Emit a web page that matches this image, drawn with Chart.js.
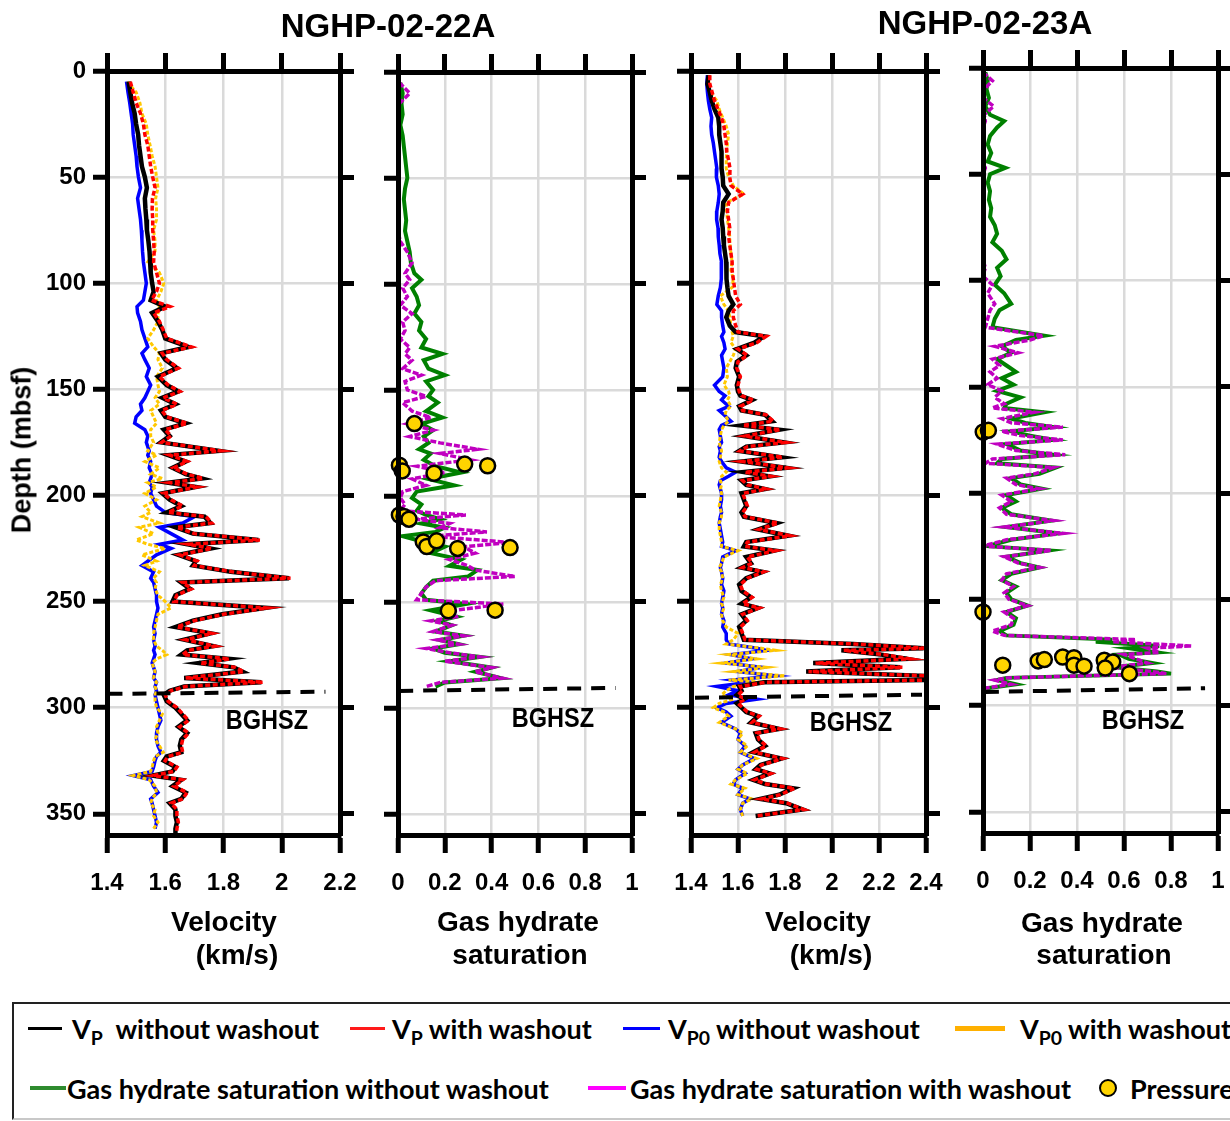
<!DOCTYPE html>
<html>
<head>
<meta charset="utf-8">
<script src="https://cdn.jsdelivr.net/npm/chart.js@4.4.0/dist/chart.umd.min.js"></script>
<style>
  html, body { margin: 0; padding: 0; background: #fff; width: 1230px; height: 1121px; overflow: hidden; position: relative;
    font-family: "Liberation Sans", Arial, sans-serif; }
  canvas { position: absolute; }
  .t { position: absolute; transform: translate(-50%, -50%); white-space: nowrap; font-weight: bold; color: #000; line-height: 1; }
  .title { font-size: 33px; }
  .ax { font-size: 28px; }
  .bg { font-size: 28px; transform: translate(-50%, -50%) scaleX(0.84); }
  #legend { position: absolute; left: 12px; top: 1002px; width: 1240px; height: 118px; border: 2px solid #222;
    border-bottom-color: #c8c8c8; box-sizing: border-box; }
  .lg { position: absolute; font-family: Lato, "Open Sans", sans-serif; font-weight: bold; font-size: 27px; white-space: nowrap;
    line-height: 1; transform: translateY(-50%); color: #000; }
  .lg sub { font-size: 0.72em; vertical-align: -0.35em; line-height: 0; }
  .sw { position: absolute; }
</style>
</head>
<body>
<canvas id="c1" width="376" height="870" style="left:0px;top:40px"></canvas>
<canvas id="c2" width="298" height="870" style="left:370px;top:40px"></canvas>
<canvas id="c3" width="307" height="870" style="left:655px;top:40px"></canvas>
<canvas id="c4" width="299" height="866" style="left:955px;top:37px"></canvas>

<div class="t title" style="left:388px;top:25px">NGHP-02-22A</div>
<div class="t title" style="left:985px;top:22px">NGHP-02-23A</div>

<div class="t ax" style="left:22px;top:450px;transform:translate(-50%,-50%) rotate(-90deg);font-size:27px">Depth (mbsf)</div>

<div class="t ax" style="left:224px;top:922px">Velocity</div>
<div class="t ax" style="left:237px;top:955px">(km/s)</div>
<div class="t ax" style="left:518px;top:922px">Gas hydrate</div>
<div class="t ax" style="left:520px;top:955px">saturation</div>
<div class="t ax" style="left:818px;top:922px">Velocity</div>
<div class="t ax" style="left:831px;top:955px">(km/s)</div>
<div class="t ax" style="left:1102px;top:923px">Gas hydrate</div>
<div class="t ax" style="left:1104px;top:955px">saturation</div>

<div class="t bg" style="left:267px;top:720px">BGHSZ</div>
<div class="t bg" style="left:553px;top:718px">BGHSZ</div>
<div class="t bg" style="left:851px;top:722px">BGHSZ</div>
<div class="t bg" style="left:1143px;top:720px">BGHSZ</div>

<div id="legend"></div>
<div class="sw" style="left:28px;top:1027px;width:34px;height:3px;background:#000"></div>
<div class="lg" style="left:72px;top:1028px">V<sub>P</sub>&nbsp; without washout</div>
<div class="sw" style="left:350px;top:1027px;width:35px;height:3px;background:#ff1a1a"></div>
<div class="lg" style="left:392px;top:1028px">V<sub>P</sub> with washout</div>
<div class="sw" style="left:623px;top:1027px;width:37px;height:3px;background:#0000ff"></div>
<div class="lg" style="left:668px;top:1028px">V<sub>P0</sub> without washout</div>
<div class="sw" style="left:955px;top:1026px;width:50px;height:5px;background:#ffb000"></div>
<div class="lg" style="left:1020px;top:1028px">V<sub>P0</sub> with washout</div>
<div class="sw" style="left:30px;top:1086px;width:36px;height:4px;background:#2e8b2e"></div>
<div class="lg" style="left:67px;top:1088px">Gas hydrate saturation without washout</div>
<div class="sw" style="left:588px;top:1086px;width:38px;height:4px;background:#ff00ff"></div>
<div class="lg" style="left:630px;top:1088px">Gas hydrate saturation with washout</div>
<div class="sw" style="left:1099px;top:1079px;width:14px;height:14px;border:2px solid #000;border-radius:50%;background:#ffd400"></div>
<div class="lg" style="left:1130px;top:1088px">Pressure core</div>

<script>
// ---------- NGHP-02-22A ----------
const depth22 = [5,10,15,20,25,30,35,40,45,50,55,60,65,70,75,80,85,90,95,100,
  104,108,111,114,118,122,126,130,133,136,140,144,148,151,154,157,160,163,166,169,172,175,179,181,184,187,190,192,194,196,199,
  202,205,208,210,213,215,218,221,223,225,228,231,233,236,239,241,244,247,250,253,256,259,262,265,268,271,273,275,277,279,281,283,286,288,290,292,294,
  297,300,303,306,309,312,315,318,321,323,325,328,330,332,334,337,340,343,345,348,351,354,357,360];
// Vp without washout
const vp22 = [1.474,1.48,1.486,1.495,1.50,1.507,1.51,1.515,1.52,1.53,1.537,1.53,1.532,1.535,1.537,1.542,1.546,1.548,1.55,1.555,
  1.56,1.55,1.60,1.555,1.575,1.59,1.60,1.68,1.585,1.60,1.64,1.575,1.605,1.645,1.59,1.635,1.585,1.60,1.67,1.595,1.615,1.585,1.785,1.61,1.67,1.625,1.67,1.725,1.61,1.705,1.59,
  1.615,1.655,1.605,1.735,1.755,1.635,1.695,1.92,1.675,1.755,1.645,1.705,1.695,1.825,2.025,1.655,1.685,1.635,1.625,1.945,1.795,1.695,1.635,1.755,1.665,1.765,1.675,1.655,1.815,1.715,1.835,1.865,1.665,1.93,1.665,1.615,1.595,
  1.605,1.635,1.655,1.675,1.645,1.675,1.655,1.65,1.655,1.605,1.595,1.635,1.625,1.555,1.655,1.625,1.67,1.655,1.615,1.635,1.635,1.64,1.635,1.635];
// Vp with washout
const vpWash22 = [1.48,1.49,1.50,1.515,1.525,1.53,1.54,1.545,1.55,1.557,1.565,1.556,1.555,1.557,1.557,1.56,1.562,1.56,1.57,1.58,
  1.57,1.553,1.616,1.56,1.58,1.593,1.605,1.69,1.59,1.605,1.645,1.58,1.61,1.65,1.593,1.64,1.588,1.605,1.675,1.60,1.62,1.588,1.79,1.616,1.675,1.628,1.675,1.73,1.616,1.71,1.593,
  1.62,1.66,1.61,1.74,1.76,1.64,1.70,1.925,1.68,1.76,1.65,1.71,1.70,1.83,2.03,1.66,1.69,1.64,1.63,1.95,1.80,1.70,1.64,1.76,1.67,1.77,1.68,1.66,1.82,1.72,1.84,1.87,1.67,1.935,1.67,1.62,1.60,
  1.61,1.64,1.66,1.68,1.65,1.68,1.66,1.655,1.66,1.61,1.60,1.64,1.63,1.56,1.66,1.63,1.675,1.66,1.62,1.64,1.64,1.645,1.64,1.64];
// Vp0 without washout
const vp0_22 = [1.467,1.472,1.478,1.483,1.488,1.49,1.495,1.50,1.503,1.508,1.515,1.505,1.51,1.515,1.518,1.52,1.522,1.525,1.53,1.535,
  1.53,1.525,1.503,1.505,1.515,1.52,1.53,1.54,1.52,1.53,1.545,1.535,1.55,1.54,1.53,1.515,1.52,1.50,1.495,1.53,1.54,1.535,1.545,1.54,1.55,1.545,1.555,1.55,1.545,1.555,1.55,
  1.56,1.57,1.60,1.70,1.66,1.58,1.62,1.66,1.58,1.62,1.57,1.54,1.52,1.56,1.55,1.56,1.565,1.57,1.57,1.575,1.57,1.565,1.56,1.565,1.56,1.565,1.56,1.565,1.56,1.555,1.56,1.565,1.56,1.57,1.565,1.57,1.565,
  1.57,1.575,1.58,1.585,1.575,1.57,1.57,1.575,1.585,1.57,1.565,1.56,1.555,1.49,1.55,1.56,1.575,1.55,1.555,1.56,1.565,1.57,1.565,null];
// Vp0 with washout
const vp0Wash22 = [1.47,1.50,1.513,1.52,1.535,1.54,1.548,1.555,1.565,1.57,1.575,1.567,1.57,1.57,1.56,1.565,1.565,1.54,1.58,1.595,
  1.585,1.57,1.58,1.575,1.575,1.56,1.54,1.56,1.58,1.575,1.59,1.57,1.575,1.58,1.565,1.58,1.55,1.56,1.57,1.55,1.55,1.56,1.54,1.57,1.53,1.58,1.55,1.59,1.54,1.57,1.53,
  1.57,1.53,1.55,1.52,1.58,1.51,1.56,1.50,1.54,1.60,1.52,1.57,1.53,1.58,1.56,1.57,1.565,1.575,1.60,1.62,1.575,1.57,1.565,1.56,1.56,1.57,1.59,1.605,1.57,1.555,1.56,1.565,1.56,1.57,1.565,1.57,1.565,
  1.565,1.57,1.59,1.58,1.57,1.575,1.565,1.58,1.593,1.565,1.56,1.555,1.55,1.49,1.545,1.565,1.57,1.555,1.55,1.565,1.56,1.575,1.56,null];

const ghsDepth22 = [5,10,15,20,25,30,35,40,45,50,55,60,65,70,75,80,85,90,95,98,
  102,106,110,114,118,122,126,130,133,136,140,143,146,150,153,156,160,163,166,169,172,175,178,180,183,186,189,192,195,198,
  201,204,207,209,211,213,215,217,219,222,224,227,230,233,235,238,240,243,246,249,251,254,257,259,261,264,266,268,270,272,274,276,278,281,283,286,288,290];
const ghs22 = [0.01,0.02,0.015,0.02,0.01,0.02,0.025,0.03,0.035,0.04,0.03,0.025,0.03,0.035,0.03,0.04,0.05,0.055,0.07,0.10,
  0.06,0.08,0.09,0.07,0.10,0.09,0.12,0.10,0.19,0.11,0.13,0.20,0.12,0.15,0.13,0.17,0.12,0.19,0.10,0.15,0.11,0.13,0.09,0.14,0.11,0.16,0.27,0.13,0.24,0.08,
  0.06,0.10,0.08,0.12,0.18,0.10,0.20,0.16,0.02,0.12,0.20,0.14,0.27,0.22,0.34,0.30,0.15,0.12,0.10,0.12,0.29,0.14,0.25,0.17,0.23,0.16,0.28,0.18,0.26,0.15,0.20,0.35,0.22,0.40,0.33,0.44,0.20,0.16];
const ghsWash22 = [0.005,0.05,0.005,0.0,0.005,0.0,0.005,0.0,0.005,0.0,0.005,0.0,0.005,0.005,0.0,0.01,0.04,0.06,0.03,0.05,
  0.02,0.04,0.01,0.06,0.02,0.03,0.01,0.05,0.03,0.06,0.02,0.10,0.03,0.04,0.12,0.02,0.06,0.14,0.04,0.15,0.05,0.18,0.34,0.18,0.31,0.08,0.20,0.06,0.12,0.02,
  0.01,0.03,0.01,0.29,0.08,0.22,0.18,0.38,0.14,0.48,0.28,0.33,0.22,0.30,0.33,0.50,0.16,0.12,0.10,0.08,0.45,0.24,0.25,0.14,0.23,0.15,0.28,0.17,0.26,0.12,0.22,0.35,0.20,0.40,0.33,0.445,0.18,0.12];
const coreSh22 = [0.07,0.006,0.018,0.154,0.285,0.383,0.006,0.026,0.047,0.108,0.123,0.165,0.255,0.479,0.215,0.415];
const coreDepth22 = [165.9,185.5,188.2,189.3,185,185.8,209,209.7,211,221.7,223.9,221.2,224.8,224.4,254.2,253.9];
const bghszVel22 = [293.5, 292.5];
const bghszGhs22 = [292, 290.6];

// ---------- NGHP-02-23A ----------
const depth23 = [2,6,10,14,18,22,26,30,34,38,42,46,50,54,58,62,66,70,74,78,82,86,90,94,98,
  102,106,110,113,116,120,123,125,128,131,134,137,140,144,148,151,153,155,158,160,162,165,167,169,172,175,177,179,182,184,187,189,191,193,195,197,199,
  202,205,208,210,213,216,219,222,224,226,229,232,234,236,239,242,245,248,251,253,256,259,262,265,268,
  270,272,273,275,277,279,281,283,285,287,288,290,292,294,296,298,300,302,304,307,310,312,315,318,321,324,327,329,331,334,336,338,341,343,345,348,351];
const vp23 = [1.475,1.47,1.48,1.488,1.50,1.516,1.52,1.52,1.525,1.53,1.53,1.53,1.535,1.537,1.56,1.537,1.535,1.53,1.535,1.537,1.54,1.545,1.55,1.55,1.552,
  1.555,1.56,1.58,1.56,1.55,1.565,1.59,1.71,1.67,1.595,1.635,1.595,1.59,1.605,1.595,1.60,1.61,1.66,1.605,1.615,1.715,1.745,1.615,1.775,1.625,1.795,1.635,1.605,1.785,1.615,1.805,1.625,1.735,1.615,1.635,1.715,1.615,
  1.625,1.635,1.615,1.625,1.765,1.685,1.815,1.635,1.625,1.755,1.635,1.655,1.615,1.705,1.635,1.605,1.615,1.655,1.615,1.685,1.615,1.635,1.605,1.615,1.625,
  2.09,2.39,2.04,2.21,2.32,1.92,2.29,1.89,2.39,2.39,1.71,1.605,1.615,1.595,1.625,1.595,1.615,1.635,1.685,1.655,1.775,1.675,1.685,1.715,1.665,1.785,1.695,1.675,1.735,1.665,1.715,1.835,1.775,1.695,1.805,1.875,1.675];
const vpWash23 = [1.48,1.48,1.49,1.50,1.515,1.53,1.54,1.545,1.55,1.552,1.56,1.566,1.565,1.57,1.62,1.56,1.555,1.56,1.565,1.56,1.565,1.57,1.575,1.575,1.58,
  1.585,1.59,1.61,1.58,1.58,1.59,1.60,1.72,1.68,1.60,1.64,1.60,1.595,1.61,1.60,1.605,1.615,1.665,1.61,1.62,1.72,1.75,1.62,1.78,1.63,1.80,1.64,1.61,1.79,1.62,1.81,1.63,1.74,1.62,1.64,1.72,1.62,
  1.63,1.64,1.62,1.63,1.77,1.69,1.82,1.64,1.63,1.76,1.64,1.66,1.62,1.71,1.64,1.61,1.62,1.66,1.62,1.69,1.62,1.64,1.61,1.62,1.63,
  2.10,2.40,2.05,2.22,2.33,1.93,2.30,1.90,2.40,2.40,1.72,1.61,1.62,1.60,1.63,1.60,1.62,1.64,1.69,1.66,1.78,1.68,1.69,1.72,1.67,1.79,1.70,1.68,1.74,1.67,1.72,1.84,1.78,1.70,1.81,1.88,1.68];
const vp0_23 = [1.47,1.467,1.47,1.474,1.48,1.488,1.485,1.488,1.495,1.50,1.505,1.51,1.508,1.516,1.52,1.516,1.51,1.509,1.515,1.516,1.52,1.523,1.53,1.528,1.53,
  1.525,1.516,1.51,1.53,1.53,1.535,1.54,1.53,1.54,1.545,1.53,1.535,1.54,1.535,1.50,1.52,1.545,1.53,1.56,1.52,1.54,1.57,1.53,1.52,1.525,1.53,1.52,1.525,1.52,1.53,1.55,1.59,1.56,1.525,1.52,1.525,1.53,
  1.53,1.525,1.53,1.525,1.52,1.525,1.53,1.535,1.53,1.59,1.535,1.53,1.525,1.53,1.535,1.53,1.54,1.535,1.53,1.535,1.53,1.54,1.535,1.55,1.55,
  1.56,1.68,1.72,1.57,1.66,1.55,1.70,1.60,1.76,1.58,1.65,1.51,1.60,1.56,1.68,1.55,1.51,1.55,1.57,1.53,1.59,1.61,1.60,1.63,1.61,1.67,1.62,1.60,1.63,1.59,1.58,1.62,1.60,1.65,1.62,1.61,1.62];
const vp0Wash23 = [1.48,1.475,1.48,1.51,1.52,1.535,1.55,1.56,1.555,1.552,1.55,1.55,1.56,1.58,1.625,1.55,1.552,1.555,1.56,1.565,1.566,1.57,1.575,1.57,1.58,
  1.575,1.525,1.54,1.56,1.565,1.57,1.575,1.58,1.57,1.59,1.58,1.565,1.55,1.555,1.54,1.56,1.565,1.555,1.57,1.55,1.545,1.56,1.54,1.53,1.525,1.52,1.525,1.53,1.525,1.52,1.53,1.55,1.53,1.525,1.53,1.525,1.53,
  1.525,1.52,1.53,1.53,1.52,1.52,1.525,1.53,1.53,1.60,1.54,1.53,1.52,1.53,1.535,1.525,1.53,1.54,1.53,1.54,1.53,1.535,1.55,1.60,1.58,
  1.55,1.70,1.76,1.56,1.68,1.53,1.72,1.58,1.80,1.56,1.70,1.58,1.55,1.53,1.58,1.52,1.495,1.54,1.56,1.52,1.59,1.62,1.60,1.64,1.61,1.68,1.62,1.60,1.64,1.59,1.57,1.63,1.60,1.66,1.62,1.61,1.62];

const ghsDepth23 = [2,6,10,14,18,22,25,28,32,36,40,44,47,50,54,58,62,66,70,74,78,82,86,90,94,98,102,106,111,114,118,122,126,128,
  131,134,137,140,143,146,149,152,155,158,160,162,165,167,169,171,173,175,177,180,182,184,186,188,191,193,196,198,201,204,207,210,213,216,219,222,
  225,227,230,233,235,238,241,244,247,250,253,256,259,262,265,267,269,270,272,273,275,276,278,280,282,284,285,287,288,290,292];
const ghs23 = [0.01,0.02,0.015,0.025,0.01,0.03,0.09,0.06,0.03,0.02,0.035,0.02,0.095,0.03,0.02,0.03,0.025,0.035,0.03,0.05,
  0.06,0.04,0.08,0.10,0.06,0.075,0.05,0.09,0.12,0.07,0.05,0.04,0.26,0.14,0.08,0.12,0.06,0.10,0.14,0.08,
  0.13,0.06,0.16,0.10,0.09,0.26,0.12,0.18,0.30,0.12,0.20,0.30,0.10,0.16,0.30,0.08,0.06,0.31,0.24,0.12,
  0.16,0.25,0.10,0.14,0.08,0.12,0.29,0.10,0.32,0.12,0.02,0.28,0.10,0.16,0.24,0.12,0.08,0.14,0.10,0.12,
  0.19,0.10,0.14,0.13,0.07,0.10,0.55,0.48,0.75,0.62,0.74,0.58,0.62,0.72,0.56,0.74,0.80,0.10,0.06,0.14,0.01];
const ghsWash23 = [0.0,0.04,0.005,0.0,0.045,0.005,0.01,0.0,0.005,0.0,0.005,0.0,0.01,0.0,0.005,0.0,0.005,0.0,0.005,0.0,
  0.005,0.0,0.005,0.0,0.01,0.0,0.04,0.02,0.05,0.03,0.02,0.01,0.257,0.20,0.05,0.15,0.04,0.07,0.03,0.06,
  0.02,0.08,0.05,0.09,0.04,0.22,0.08,0.12,0.34,0.08,0.16,0.34,0.06,0.14,0.35,0.04,0.01,0.30,0.22,0.10,
  0.14,0.24,0.08,0.12,0.07,0.10,0.30,0.09,0.34,0.10,0.0,0.29,0.09,0.15,0.24,0.10,0.08,0.13,0.09,0.11,
  0.19,0.09,0.13,0.12,0.04,0.09,0.65,0.55,0.888,0.70,0.75,0.60,0.65,0.70,0.55,0.72,0.78,0.10,0.05,0.12,0.0];
const coreSh23 = [0.001,0.023,0.0,0.084,0.235,0.261,0.339,0.387,0.387,0.43,0.516,0.552,0.52,0.623];
const coreDepth23 = [171.3,170.5,256,281,279,278.4,277.2,277.5,281,281.5,278.7,279.5,282.4,285];
const bghszVel23 = [295.3, 293.9];
const bghszGhs23 = [293.6, 291.9];

// ---------- helpers ----------
const FONT = "'Liberation Sans', Arial, sans-serif";
const toPts = (xs, ys) => xs.map((x, i) => ({ x: x, y: ys[i] })).filter(p => p.x !== null);

const curve = (xs, ys, color, width, dash) => ({
  data: toPts(xs, ys), borderColor: color, borderWidth: width, borderDash: dash || [],
  pointRadius: 0, fill: false, tension: 0
});
const cores = (xs, ys) => ({
  data: toPts(xs, ys), showLine: false, pointRadius: 7.5, pointHoverRadius: 7.5,
  pointBackgroundColor: '#ffd400', pointBorderColor: '#000', pointBorderWidth: 2.5, clip: false
});
const bghsz = (x0, x1, d) => ({
  data: [{ x: x0, y: d[0] }, { x: x1, y: d[1] }], borderColor: '#000', borderWidth: 4,
  borderDash: [14, 10], pointRadius: 0
});

const fixSize = (prop, v) => scale => { scale[prop] = v; };

function drawPanel(id, xmin, xmax, box, depthLabels, datasets) {
  const tickGrid = len => ({ tickColor: '#000', tickWidth: 5, tickLength: len });
  const border = { color: '#000', width: 5, z: 1 };
  new Chart(document.getElementById(id), {
    type: 'line',
    data: { datasets: datasets },
    options: {
      responsive: false,
      animation: false,
      events: [],
      layout: { padding: 0 },
      plugins: { legend: { display: false }, tooltip: { enabled: false } },
      scales: {
        x: {
          type: 'linear', position: 'bottom', min: xmin, max: xmax,
          ticks: { stepSize: 0.2, autoSkip: false, maxRotation: 0, padding: 16, color: '#000',
            font: { family: FONT, size: 24, weight: 'bold' },
            callback: v => String(+v.toFixed(1)) },
          grid: Object.assign({ color: '#dadada', lineWidth: 2.5 }, tickGrid(18)),
          border: border,
          afterFit: fixSize('height', box.bottom)
        },
        x2: {
          type: 'linear', position: 'top', min: xmin, max: xmax,
          ticks: { stepSize: 0.2, display: false },
          grid: Object.assign({ drawOnChartArea: false }, tickGrid(18)),
          border: border,
          afterFit: fixSize('height', box.top)
        },
        y: {
          type: 'linear', position: 'left', reverse: true, min: 0, max: 360,
          ticks: { stepSize: 50, includeBounds: false, display: depthLabels, padding: 7, color: '#000',
            font: { family: FONT, size: 24, weight: 'bold' } },
          grid: Object.assign({ color: '#dadada', lineWidth: 2.5 }, tickGrid(14)),
          border: border,
          afterFit: fixSize('width', box.left)
        },
        y2: {
          type: 'linear', position: 'right', reverse: true, min: 0, max: 360,
          ticks: { stepSize: 50, includeBounds: false, display: false },
          grid: Object.assign({ drawOnChartArea: false }, tickGrid(14)),
          border: border,
          afterFit: fixSize('width', box.right)
        }
      }
    }
  });
}

// velocity panels: first dataset is drawn on top
function velocitySets(d, vp, vpw, vp0, vp0w, bg, x0, x1) {
  return [
    bghsz(x0, x1, bg),
    curve(vpw, d, '#ff0000', 3.5, [5, 2.5]),
    curve(vp, d, '#000000', 4.5),
    curve(vp0w, d, '#ffc800', 3, [4, 2]),
    curve(vp0, d, '#0000ff', 3.5)
  ];
}
function saturationSets(d, g, gw, cs, cd, bg, x0, x1) {
  return [
    cores(cs, cd),
    bghsz(x0, x1, bg),
    curve(gw, d, '#c000c0', 3.5, [6, 2]),
    curve(g, d, '#008000', 4)
  ];
}

drawPanel('c1', 1.4, 2.2, { left: 107, right: 36, top: 31, bottom: 75 }, true,
  velocitySets(depth22, vp22, vpWash22, vp0_22, vp0Wash22, bghszVel22, 1.405, 2.15));
drawPanel('c2', 0, 1, { left: 28, right: 36, top: 32, bottom: 75 }, false,
  saturationSets(ghsDepth22, ghs22, ghsWash22, coreSh22, coreDepth22, bghszGhs22, 0.005, 0.93));
drawPanel('c3', 1.4, 2.4, { left: 36, right: 36, top: 31, bottom: 75 }, false,
  velocitySets(depth23, vp23, vpWash23, vp0_23, vp0Wash23, bghszVel23, 1.417, 2.383));
drawPanel('c4', 0, 1, { left: 28, right: 36, top: 31, bottom: 70 }, false,
  saturationSets(ghsDepth23, ghs23, ghsWash23, coreSh23, coreDepth23, bghszGhs23, 0.008, 0.945));
</script>
</body>
</html>
